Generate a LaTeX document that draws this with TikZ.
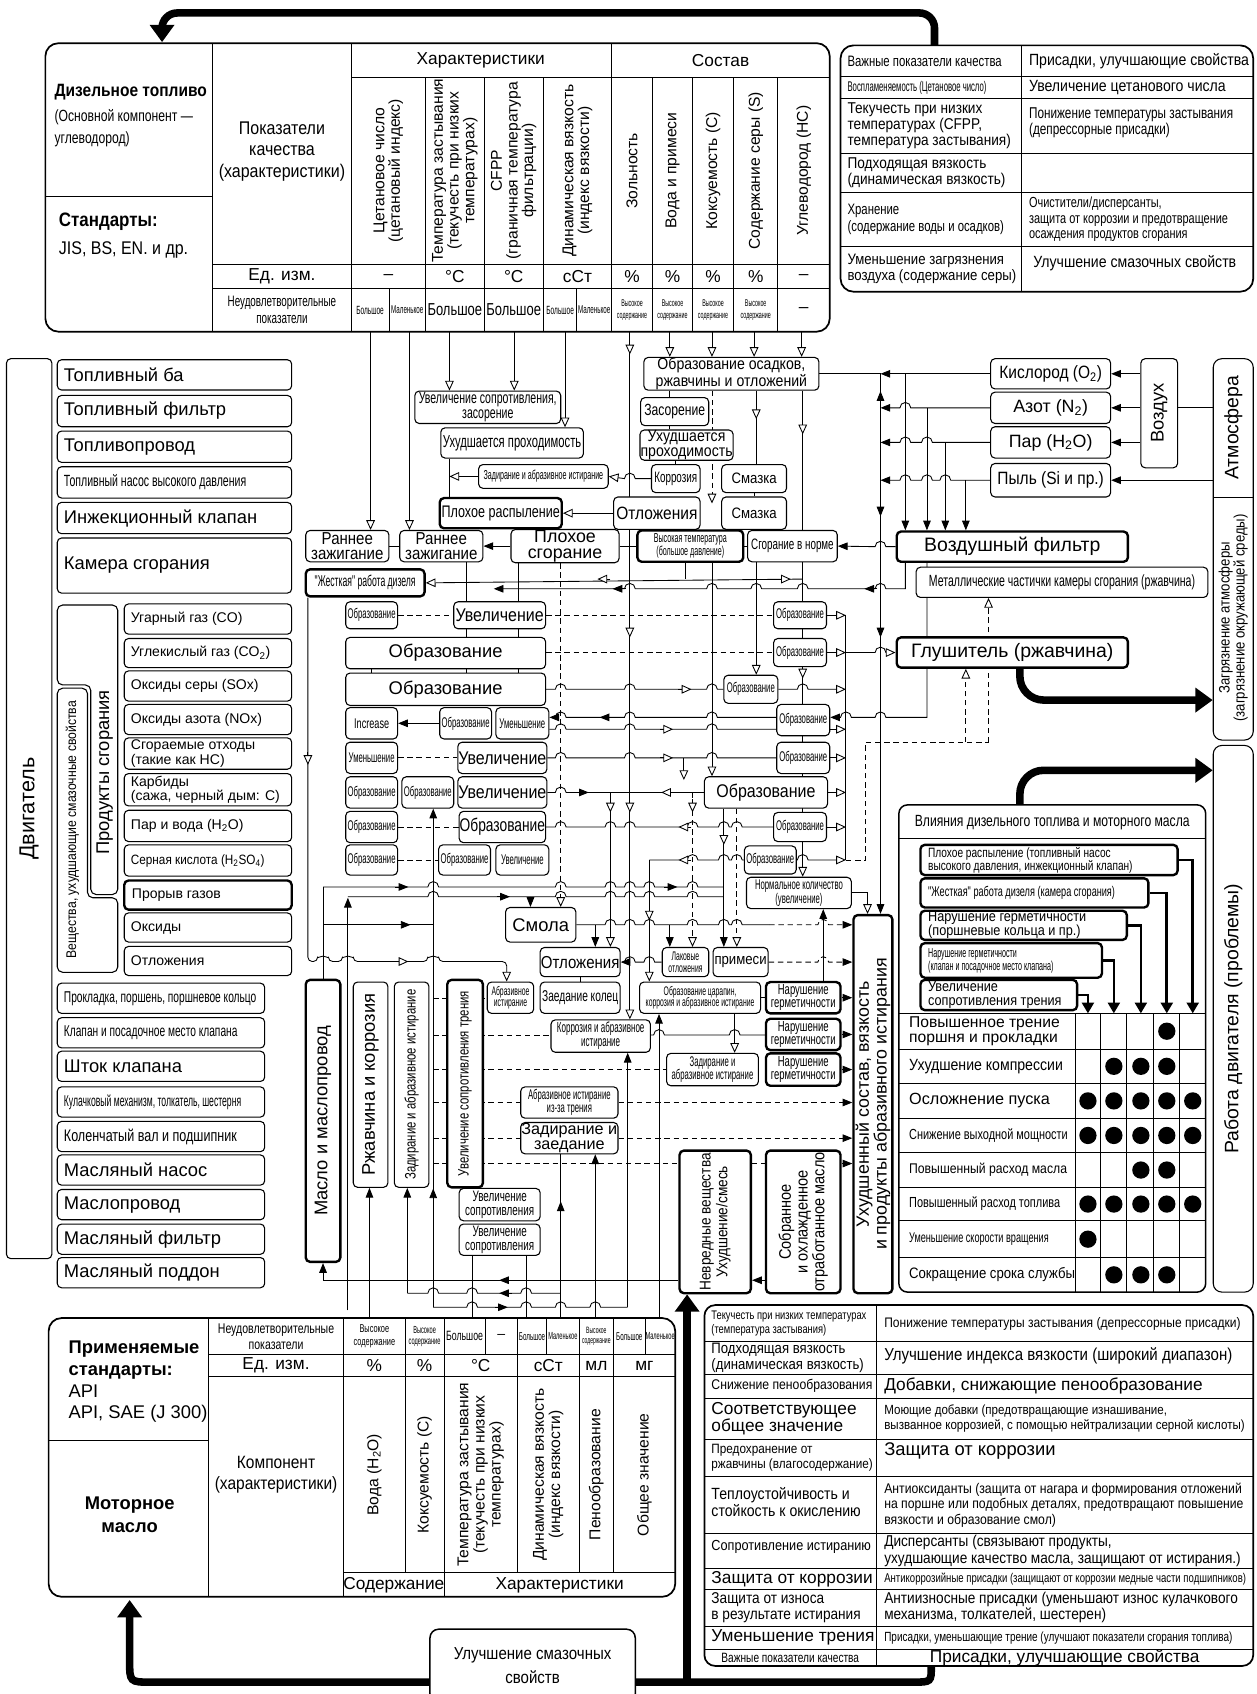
\documentclass[tikz,border=0pt]{standalone}
\usepackage{fontspec}
\setmainfont{Liberation Sans}
\newfontfamily\cA[FakeStretch=0.55]{Liberation Sans}
\newfontfamily\cB[FakeStretch=0.65]{Liberation Sans}
\newfontfamily\cC[FakeStretch=0.75]{Liberation Sans}
\newfontfamily\cD[FakeStretch=0.87]{Liberation Sans}
\usetikzlibrary{arrows.meta}
\pgfdeclarelayer{back}
\pgfdeclarelayer{bg}
\pgfsetlayers{back,bg,main}
\newcommand\fz[1]{\fontsize{#1}{#1}\selectfont}
\newcommand\fzz[2]{\fontsize{#1}{#2}\selectfont}
\newcommand\bx[7][]{\node[box,minimum width={(#5-#3)*1pt},minimum height={(#6-#4)*1pt},#1] (#2) at ({(#3+#5)/2},{(#4+#6)/2}) {#7};}
\newcommand\bxl[7][]{\node[box,minimum width={(#5-#3)*1pt},minimum height={(#6-#4)*1pt},#1] (#2) at ({(#3+#5)/2},{(#4+#6)/2}) {};\node[anchor=west,inner sep=0pt,align=left,#1,draw=none,fill=none] at ({#3+6},{(#4+#6)/2}) {#7};}
\newcommand\bxr[7][]{\node[box,minimum width={(#5-#3)*1pt},minimum height={(#6-#4)*1pt},#1] (#2) at ({(#3+#5)/2},{(#4+#6)/2}) {};\node[rotate=90,align=center,inner sep=0pt,#1,draw=none,fill=none] at (#2.center) {#7};}
\newcommand\hop[2]{-- ({#1-5},#2) arc[start angle=180,end angle=360,radius=5]}
\newcommand\hopl[2]{-- ({#1+5},#2) arc[start angle=0,end angle=-180,radius=5]}
\newcommand\OA[3]{\path (#1,#2) ++({#3+180}:12) coordinate (tmp); \draw[oa] (tmp) -- (#1,#2);}
\newcommand\FA[3]{\path (#1,#2) ++({#3+180}:12) coordinate (tmp); \draw[fa] (tmp) -- (#1,#2);}
\tikzset{
 box/.style={draw,rounded corners=4pt,line width=1pt,fill=white,inner sep=0.5pt,align=center},
 tk/.style={line width=2.2pt},
 ln/.style={line width=0.8pt},
 dsh/.style={line width=0.8pt,dash pattern=on 5pt off 3.5pt},
 oa/.style={ln,-{Triangle[length=9pt,width=8pt,fill=white]}},
 fa/.style={ln,-{Triangle[length=9pt,width=7pt]}},
 doa/.style={dsh,-{Triangle[length=9pt,width=8pt,fill=white]}},
 dfa/.style={dsh,-{Triangle[length=9pt,width=7pt]}},
 big/.style={line width=7pt,-{Triangle[length=16pt,width=22pt]}},
 tka/.style={line width=2.5pt,-{Triangle[length=10pt,width=11pt]}},
 tbl/.style={line width=1.6pt,rounded corners=12pt},
}
\begin{document}
\begin{tikzpicture}[x=1pt,y=-1pt]
\useasboundingbox (0,0) rectangle (1163,1568);
\begin{pgfonlayer}{back}\fill[white] (0,0) rectangle (1163,1568);\end{pgfonlayer}

% ================= top-left table (diesel fuel)
\draw[tbl] (42,40) rectangle (768,307);
\draw[ln] (197,40)--(197,307) (325,40)--(325,307) (42,182)--(197,182)
 (325,72)--(768,72) (197,245)--(768,245) (197,267)--(768,267) (566,40)--(566,307)
 (360,267)--(360,307) (534,267)--(534,307);
\foreach \x in {394,448,503,604,641,679,720} \draw[ln] (\x,72)--(\x,307);
\node[anchor=west,font=\cD\bfseries\fz{16.5}] at (47,85) {Дизельное топливо};
\node[anchor=north west,font=\cC\fzz{15}{20},align=left] at (47,98) {(Основной компонент —\\углеводород)};
\node[anchor=west,font=\cD\bfseries\fz{18}] at (51,205) {Стандарты:};
\node[anchor=west,font=\cD\fz{17}] at (51,231) {JIS, BS, EN. и др.};
\node[font=\cD\fzz{17}{20},align=center] at (261,140) {Показатели\\качества\\(характеристики)};
\node[font=\fz{16}] at (445,56) {Характеристики};
\node[font=\fz{16}] at (667,56) {Состав};
\foreach \x/\t in {359.5/{Цетановое число\\(цетановый индекс)},421/{Температура застывания\\(текучесть при низких\\температурах)},475.5/{CFPP\\(граничная температура\\фильтрации)},534.5/{Динамическая вязкость\\(индекс вязкости)},585/{Зольность},622.5/{Вода и примеси},660/{Коксуемость (C)},699.5/{Содержание серы (S)},744/{Углеводород (HC)}}
  \node[rotate=90,font=\fzz{14.5}{14.5},align=center] at (\x,158) {\t};
\node[font=\fz{16}] at (261,256) {Ед. изм.};
\foreach \x/\t in {359.5/–,421/°C,475.5/°C,534.5/сСт,585/\%,622.5/\%,660/\%,699.5/\%,744/–}
  \node[font=\fz{16}] at (\x,256) {\t};
\node[font=\cB\fzz{14}{16},align=center] at (261,287) {Неудовлетворительные\\показатели};
\node[font=\cA\fz{11}] at (342.5,287) {Большое};
\node[font=\cA\fz{10.5}] at (377,287) {Маленькое};
\node[font=\cC\fz{16}] at (421,287) {Большое};
\node[font=\cC\fz{16}] at (475.5,287) {Большое};
\node[font=\cA\fz{11}] at (518.5,287) {Большое};
\node[font=\cA\fz{10.5}] at (550,287) {Маленькое};
\foreach \x in {585,622.5,660,699.5} \node[font=\cA\fzz{9}{11},align=center] at (\x,287) {Высокое\\содержание};
\node[font=\fz{16}] at (744,287) {–};

% ================= top-right table
\draw[tbl] (778,42) rectangle (1160,270);
\draw[ln] (945,42)--(945,270);
\foreach \y in {71,91,142,178,228} \draw[ln] (778,\y)--(1160,\y);
\node[anchor=west,font=\cC\fz{14}] at (781,56.5) {Важные показатели качества};
\node[anchor=west,font=\cD\fz{15}] at (949,56.5) {Присадки, улучшающие свойства};
\node[anchor=west,font=\cA\fz{13}] at (781,81) {Воспламеняемость (Цетановое число)};
\node[anchor=west,font=\cD\fz{15}] at (949,81) {Увеличение цетанового числа};
\node[anchor=west,font=\cD\fzz{14.5}{15},align=left] at (781,116.5) {Текучесть при низких\\температурах (CFPP,\\температура застывания)};
\node[anchor=north west,font=\cC\fzz{14.5}{15},align=left] at (949,96) {Понижение температуры застывания\\(депрессорные присадки)};
\node[anchor=west,font=\cD\fzz{14.5}{15},align=left] at (781,160) {Подходящая вязкость\\(динамическая вязкость)};
\node[anchor=west,font=\cC\fzz{14}{15},align=left] at (781,203) {Хранение\\(содержание воды и осадков)};
\node[anchor=west,font=\cC\fzz{13.5}{14},align=left] at (949,203) {Очистители/дисперсанты,\\защита от коррозии и предотвращение\\осаждения продуктов сгорания};
\node[anchor=west,font=\cD\fzz{14}{15},align=left] at (781,249) {Уменьшение загрязнения\\воздуха (содержание серы)};
\node[anchor=west,font=\cD\fz{15}] at (953,244) {Улучшение смазочных свойств};

% ================= left column (engine)
\bxr[font=\fz{20}]{dvig}{6}{332}{48}{1165}{Двигатель}
\bxl[font=\fz{17}]{l1}{53}{333}{270}{361}{Топливный ба}
\bxl[font=\fz{17}]{l2}{53}{366}{270}{395}{Топливный фильтр}
\bxl[font=\fz{17}]{l3}{53}{399}{270}{428}{Топливопровод}
\bxl[font=\cB\fz{15}]{l4}{53}{432}{270}{461}{Топливный насос высокого давления}
\bxl[font=\fz{17}]{l5}{53}{465}{270}{494}{Инжекционный клапан}
\bxl[font=\fz{17}]{l6}{53}{498}{270}{549}{Камера сгорания}
\draw[line width=1pt,rounded corners=5pt] (53,560) -- (109,560) -- (109,828) -- (84,828) -- (84,634) -- (53,634) -- cycle;
\draw[line width=1pt,rounded corners=5pt] (53,637) -- (81,637) -- (81,831) -- (109,831) -- (109,900) -- (53,900) -- cycle;
\node[rotate=90,font=\fz{17}] (prod) at (97,715) {Продукты сгорания};
\node[rotate=90,font=\cD\fz{13}] (vesch) at (67,768) {Вещества, ухудшающие смазочные свойства};
\bxl[font=\fz{13}]{p1}{115}{559}{270}{587}{Угарный газ (CO)}
\bxl[font=\fz{13}]{p2}{115}{591}{270}{618}{Углекислый газ (CO\textsubscript{2})}
\bxl[font=\fz{13}]{p3}{115}{621}{270}{649}{Оксиды серы (SOx)}
\bxl[font=\fz{13}]{p4}{115}{652}{270}{680}{Оксиды азота (NOx)}
\bxl[font=\fzz{13}{12}]{p5}{115}{683}{270}{712}{Сгораемые отходы\\(такие как HC)}
\bxl[font=\fzz{13}{12}]{p6}{115}{716}{270}{746}{Карбиды\\(сажа, черный дым: C)}
\bxl[font=\fz{13}]{p7}{115}{750}{270}{779}{Пар и вода (H\textsubscript{2}O)}
\bxl[font=\cD\fz{12.5}]{p8}{115}{782}{270}{811}{Серная кислота (H\textsubscript{2}SO\textsubscript{4})}
\bxl[tk,font=\fz{13}]{p9}{115}{815}{270}{842}{Прорыв газов}
\bxl[font=\fz{13}]{p10}{115}{845}{270}{872}{Оксиды}
\bxl[font=\fz{13}]{p11}{115}{876}{270}{903}{Отложения}
\bxl[font=\cB\fz{14.5}]{e1}{53}{910}{245}{938}{Прокладка, поршень, поршневое кольцо}
\bxl[font=\cB\fz{14.5}]{e2}{53}{942}{245}{970}{Клапан и посадочное место клапана}
\bxl[font=\fz{17}]{e3}{53}{973}{245}{1001}{Шток клапана}
\bxl[font=\cA\fz{14.5}]{e4}{53}{1006}{245}{1034}{Кулачковый механизм, толкатель, шестерня}
\bxl[font=\cC\fz{15.5}]{e5}{53}{1038}{245}{1066}{Коленчатый вал и подшипник}
\bxl[font=\fz{17}]{e6}{53}{1069}{245}{1097}{Масляный насос}
\bxl[font=\fz{17}]{e7}{53}{1101}{245}{1129}{Маслопровод}
\bxl[font=\fz{17}]{e8}{53}{1133}{245}{1161}{Масляный фильтр}
\bxl[font=\fz{17}]{e9}{53}{1164}{245}{1192}{Масляный поддон}

% ================= center upper
\bx[font=\cD\fzz{15}{14}]{oos}{596}{331}{758}{361}{Образование осадков,\\ржавчины и отложений}
\bx[font=\cB\fzz{15}{14}]{uvs}{384}{362}{519}{392}{Увеличение сопротивления,\\засорение}
\bx[font=\cB\fz{16}]{uhp1}{408}{396}{540}{424}{Ухудшается проходимость}
\bx[font=\cA\fz{12}]{zai1}{443}{430}{563}{452}{Задирание и абразивное истирание}
\bx[tk,font=\cC\fz{15.5}]{plr}{407}{461}{520}{489}{Плохое распыление}
\bx[font=\cC\fz{15}]{zas}{593}{368}{656}{394}{Засорение}
\bx[font=\cD\fzz{15}{13}]{uhp2}{593}{398}{678}{426}{Ухудшается\\проходимость}
\bx[font=\cB\fz{14}]{kor}{603}{430}{648}{456}{Коррозия}
\bx[font=\cD\fz{14}]{sm1}{668}{430}{728}{456}{Смазка}
\bx[font=\cD\fz{16.5}]{otl1}{568}{460}{648}{490}{Отложения}
\bx[font=\cD\fz{14}]{sm2}{668}{460}{728}{490}{Смазка}
\bx[font=\cD\fzz{16}{14}]{rz1}{283}{491}{360}{520}{Раннее\\зажигание}
\bx[font=\cD\fzz{16}{14}]{rz2}{370}{491}{447}{520}{Раннее\\зажигание}
\bx[font=\fzz{16.5}{15}]{pls}{473}{491}{573}{520}{Плохое\\сгорание}
\bx[tk,font=\cA\fzz{12}{12}]{vt}{590}{491}{688}{520}{Высокая температура\\(большое давление)}
\bx[font=\cB\fz{14}]{svn}{692}{491}{775}{520}{Сгорание в норме}
\bx[tk,font=\cA\fz{14.5}]{zhr}{283}{527}{393}{552}{"Жесткая" работа дизеля}

% ================= center stack
\bx[font=\cA\fz{13}]{ob1}{320}{557}{368}{582}{Образование}
\bx[font=\cD\fz{17}]{uv1}{420}{557}{505}{582}{Увеличение}
\bx[font=\cA\fz{13}]{obr1}{716}{557}{765}{582}{Образование}
\bx[font=\fz{17}]{obw1}{320}{590}{505}{619}{Образование}
\bx[font=\cA\fz{13}]{obr2}{716}{591}{765}{617}{Образование}
\bx[font=\fz{17}]{obw2}{320}{623}{505}{653}{Образование}
\bx[font=\cA\fz{13}]{obm3}{670}{625}{720}{651}{Образование}
\bx[font=\cB\fz{13}]{inc}{320}{655}{368}{684}{Increase}
\bx[font=\cA\fz{13}]{ob4a}{407}{655}{455}{684}{Образование}
\bx[font=\cA\fz{13}]{um4}{459}{655}{508}{684}{Уменьшение}
\bx[font=\cA\fz{13}]{obr4}{719}{652}{768}{681}{Образование}
\bx[font=\cA\fz{13}]{um5}{320}{687}{368}{716}{Уменьшение}
\bx[font=\cD\fz{17}]{uv5}{425}{687}{505}{716}{Увеличение}
\bx[font=\cA\fz{13}]{obr5}{719}{687}{768}{716}{Образование}
\bx[font=\cA\fz{13}]{ob6a}{320}{719}{368}{748}{Образование}
\bx[font=\cA\fz{13}]{ob6b}{372}{719}{420}{748}{Образование}
\bx[font=\cD\fz{17}]{uv6}{425}{719}{505}{748}{Увеличение}
\bx[font=\cD\fz{17}]{obB}{652}{719}{766}{748}{Образование}
\bx[font=\cA\fz{13}]{ob7a}{320}{751}{368}{780}{Образование}
\bx[font=\cC\fz{17}]{ob7b}{425}{751}{505}{780}{Образование}
\bx[font=\cA\fz{13}]{obr7}{716}{752}{765}{779}{Образование}
\bx[font=\cA\fz{13}]{ob8a}{320}{782}{368}{810}{Образование}
\bx[font=\cA\fz{13}]{ob8b}{406}{782}{454}{810}{Образование}
\bx[font=\cA\fz{13}]{uv8}{459}{782}{508}{810}{Увеличение}
\bx[font=\cA\fz{13}]{obr8}{689}{783}{737}{809}{Образование}
\bx[font=\cA\fzz{13}{12}]{nk}{691}{812}{788}{841}{Нормальное количество\\(увеличение)}

% ================= center lower
\bx[font=\fz{17}]{smola}{468}{840}{533}{872}{Смола}
\bx[font=\cD\fz{16}]{otl2}{500}{877}{574}{904}{Отложения}
\bx[font=\cA\fzz{11.5}{11}]{lak}{613}{877}{656}{904}{Лаковые\\отложения}
\bx[font=\cD\fz{14}]{prm}{660}{877}{711}{904}{примеси}
\bx[font=\cB\fz{14.5}]{zk}{500}{909}{574}{938}{Заедание колец}
\bx[font=\cA\fzz{11.5}{11}]{abr}{451}{909}{494}{938}{Абразивное\\истирание}
\bx[font=\cA\fzz{11.5}{11}]{ocr}{592}{909}{704}{938}{Образование царапин,\\коррозия и абразивное истирание}
\bx[tk,font=\cB\fzz{13.5}{12.5}]{n1}{709}{909}{778}{938}{Нарушение\\герметичности}
\bx[font=\cA\fzz{13.5}{13}]{kab}{510}{944}{602}{974}{Коррозия и абразивное\\истирание}
\bx[tk,font=\cB\fzz{13.5}{12.5}]{n2}{709}{943}{778}{972}{Нарушение\\герметичности}
\bx[font=\cA\fzz{13}{12.5}]{zar2}{617}{975}{702}{1005}{Задирание и\\абразивное истирание}
\bx[tk,font=\cB\fzz{13.5}{12.5}]{n3}{709}{975}{778}{1005}{Нарушение\\герметичности}
\bx[font=\cA\fzz{13}{12.5}]{aiz}{482}{1006}{572}{1035}{Абразивное истирание\\из-за трения}
\bx[font=\fzz{15}{13.5}]{zz}{482}{1039}{572}{1068}{Задирание и\\заедание}
\bx[font=\cB\fzz{14}{13}]{us1}{425}{1100}{500}{1130}{Увеличение\\сопротивления}
\bx[font=\cB\fzz{14}{13}]{us2}{425}{1133}{500}{1162}{Увеличение\\сопротивления}
\bxr[tk,font=\fz{17}]{mm}{283}{907}{315}{1168}{Масло и маслопровод}
\bxr[font=\fz{17}]{rzk}{327}{909}{359}{1099}{Ржавчина и коррозия}
\bxr[font=\cC\fz{14}]{zad}{365}{909}{397}{1099}{Задирание и абразивное истирание}
\bxr[tk,font=\cC\fz{14}]{utr}{414}{907}{447}{1099}{Увеличение сопротивления трения}
\bxr[tk,font=\cD\fzz{14.5}{15.5}]{nv}{629}{1065}{695}{1197}{Невредные вещества\\Ухудшение/смесь}
\bxr[tk,font=\cD\fzz{15.5}{15.5}]{sob}{709}{1065}{778}{1197}{Собранное\\и охлажденное\\отработанное масло}
\bxr[tk,font=\fzz{16.5}{16.5}]{uhs}{790}{847}{826}{1197}{Ухудшенный состав, вязкость\\и продукты абразивного истирания}

% ================= right
\bx[font=\cD\fz{16.5}]{kis}{917}{332}{1028}{360}{Кислород (O\textsubscript{2})}
\bx[font=\fz{16.5}]{azot}{917}{363}{1028}{392}{Азот (N\textsubscript{2})}
\bx[font=\fz{16.5}]{par}{917}{395}{1028}{424}{Пар (H\textsubscript{2}O)}
\bx[font=\cD\fz{16.5}]{pyl}{917}{429}{1028}{460}{Пыль (Si и пр.)}
\bxr[font=\fz{17}]{vozd}{1056}{332}{1090}{433}{Воздух}
\node[box,rounded corners=8pt,minimum width=37pt,minimum height=353pt] (atmb) at (1141.5,508.5) {};
\draw[ln] (1123,460)--(1160,460);
\node[rotate=90,font=\fz{18}] (atm) at (1141.5,396) {Атмосфера};
\node[rotate=90,font=\cD\fzz{14}{14},align=center] (zag) at (1141.5,572) {Загрязнение атмосферы\\(загрязнение окружающей среды)};
\node[box,rounded corners=8pt,minimum width=37pt,minimum height=506pt] (rab) at (1141.5,943) {};
\node[rotate=90,font=\fz{18}] at (rab.center) {Работа двигателя (проблемы)};
\bx[tk,font=\fz{18}]{af}{830}{492}{1044}{520}{Воздушный фильтр}
\bx[font=\cB\fz{15}]{met}{848}{525}{1118}{553}{Металлические частички камеры сгорания (ржавчина)}
\bx[tk,font=\fz{18}]{glush}{830}{590}{1044}{618}{Глушитель (ржавчина)}

% ================= effects panel
\node[box,line width=1.4pt,rounded corners=8pt,minimum width=284pt,minimum height=451pt] (vl) at (974,970.5) {};
\draw[ln] (832,776)--(1116,776);
\node[font=\cC\fz{15}] at (974,761) {Влияния дизельного топлива и моторного масла};
\bxl[tk,font=\cC\fzz{12.5}{12}]{b1}{852}{782}{1090}{810}{Плохое распыление (топливный насос\\высокого давления, инжекционный клапан)}
\bxl[tk,font=\cB\fz{13}]{b2}{852}{813}{1063}{840}{"Жесткая" работа дизеля (камера сгорания)}
\bxl[tk,font=\cD\fzz{13.5}{13}]{b3}{852}{843}{1043}{870}{Нарушение герметичности\\(поршневые кольца и пр.)}
\bxl[tk,font=\cA\fzz{12}{12}]{b4}{852}{873}{1020}{905}{Нарушение герметичности\\(клапан и посадочное место клапана)}
\bxl[tk,font=\cD\fzz{13.5}{13}]{b5}{852}{907}{997}{935}{Увеличение\\сопротивления трения}
\draw[tka] (b5.east) -- (1007,921) -- (1007,938);
\draw[tka] (b4.east) -- (1031,889) -- (1031,938);
\draw[tka] (b3.east) -- (1056,856.5) -- (1056,938);
\draw[tka] (b2.east) -- (1080,826.5) -- (1080,938);
\draw[tka] (b1.east) -- (1104,796) -- (1104,938);
\foreach \y in {938,971,1003,1035,1067,1099,1130,1164} \draw[ln] (832,\y)--(1116,\y);
\foreach \x in {995,1019,1043,1068,1092} \draw[ln] (\x,938)--(\x,1196);
\node[anchor=west,font=\fzz{14.5}{14.5},align=left] at (838,954.5) {Повышенное трение\\поршня и прокладки};
\node[anchor=west,font=\cD\fz{15}] at (838,987) {Ухудшение компрессии};
\node[anchor=west,font=\fz{15}] at (838,1019) {Осложнение пуска};
\node[anchor=west,font=\cC\fz{13.5}] at (838,1051) {Снижение выходной мощности};
\node[anchor=west,font=\cD\fz{13}] at (838,1083) {Повышенный расход масла};
\node[anchor=west,font=\cC\fz{13.5}] at (838,1114.5) {Повышенный расход топлива};
\node[anchor=west,font=\cB\fz{13}] at (838,1147) {Уменьшение скорости вращения};
\node[anchor=west,font=\cD\fz{14}] at (838,1180) {Сокращение срока службы};
\foreach \x/\y in {1080/954.5, 1031/987,1056/987,1080/987, 1007/1019,1031/1019,1056/1019,1080/1019,1104/1019,
 1007/1051,1031/1051,1056/1051,1080/1051,1104/1051, 1056/1083,1080/1083,
 1007/1114.5,1031/1114.5,1056/1114.5,1080/1114.5,1104/1114.5, 1007/1147, 1031/1180,1056/1180,1080/1180}
 \fill (\x,\y) circle[radius=8];

% ================= bottom-left table (motor oil)
\draw[tbl] (45,1220) rectangle (625,1478);
\draw[ln] (193,1220)--(193,1478) (318,1220)--(318,1478) (45,1333)--(193,1333)
 (193,1254)--(625,1254) (193,1274)--(625,1274) (318,1455)--(625,1455)
 (375,1220)--(375,1455) (411,1220)--(411,1478) (479,1220)--(479,1455) (536,1220)--(536,1455) (568,1220)--(568,1455)
 (449,1220)--(449,1254) (506,1220)--(506,1254) (597,1220)--(597,1254);
\node[anchor=north west,font=\fzz{17}{20},align=left] at (60,1238) {{\bfseries Применяемые}\\{\bfseries стандарты:}\\API\\API, SAE (J 300)};
\node[font=\bfseries\fzz{17}{22},align=center] at (120,1402) {Моторное\\масло};
\node[font=\cC\fzz{13}{15},align=center] at (255.5,1237) {Неудовлетворительные\\показатели};
\node[font=\fz{16}] at (255.5,1264) {Ед. изм.};
\node[font=\cD\fzz{16.5}{19},align=center] at (255.5,1365) {Компонент\\(характеристики)};
\foreach \x/\t in {346.5/\%,393/\%,445/°C,507.5/сСт,552/мл,596.5/мг/г} \node[font=\fz{16}] at (\x,1264) {\t};
\foreach \x/\t in {346.5/{Вода (H\textsubscript{2}O)},393/{Коксуемость (C)},445/{Температура застывания\\(текучесть при низких\\температурах)},507.5/{Динамическая вязкость\\(индекс вязкости)},552/{Пенообразование},596.5/{Общее значение}}
 \node[rotate=90,font=\fzz{14.5}{15},align=center] at (\x,1365) {\t};
\node[font=\fz{16}] at (364.5,1467) {Содержание};
\node[font=\fz{16}] at (518,1467) {Характеристики};
\node[font=\cB\fzz{10.5}{11.5},align=center] at (346.5,1237) {Высокое\\содержание};
\node[font=\cA\fzz{9.5}{10.5},align=center] at (393,1237) {Высокое\\содержание};
\node[font=\cB\fz{12.5}] at (430,1237) {Большое};
\node[font=\fz{13}] at (464,1237) {–};
\node[font=\cA\fz{10.5}] at (492.5,1237) {Большое};
\node[font=\cA\fz{9.5}] at (521,1237) {Маленькое};
\node[font=\cA\fzz{8.5}{9.5},align=center] at (552,1237) {Высокое\\содержание};
\node[font=\cA\fz{10.5}] at (582.5,1237) {Большое};
\node[font=\cA\fz{9.5}] at (611,1237) {Маленькое};
\bx[line width=1.4pt,rounded corners=8pt,font=\cD\fzz{16}{22}]{ul}{398}{1508}{588}{1576}{Улучшение смазочных\\свойств}

% ================= bottom-right table (oil additives)
\draw[line width=1.6pt,rounded corners=10pt] (652,1208) rectangle (1160,1542);
\draw[ln] (811,1208)--(811,1542);
\foreach \y in {1242,1272,1294,1332,1367,1419,1452,1471,1505,1527} \draw[ln] (652,\y)--(1160,\y);
\node[anchor=west,font=\cC\fzz{11.5}{12.5},align=left] at (655,1225) {Текучесть при низких температурах\\(температура застывания)};
\node[anchor=west,font=\cD\fz{12.8}] at (815,1225) {Понижение температуры застывания (депрессорные присадки)};
\node[anchor=west,font=\cD\fzz{14}{14.5},align=left] at (655,1257) {Подходящая вязкость\\(динамическая вязкость)};
\node[anchor=west,font=\cD\fz{16}] at (815,1255) {Улучшение индекса вязкости (широкий диапазон)};
\node[anchor=west,font=\cD\fz{13}] at (655,1283) {Снижение пенообразования};
\node[anchor=west,font=\fz{16}] at (815,1283) {Добавки, снижающие пенообразование};
\node[anchor=west,font=\fzz{16}{16},align=left] at (655,1313) {Соответствующее\\общее значение};
\node[anchor=west,font=\cD\fzz{12.3}{13.5},align=left] at (815,1313) {Моющие добавки (предотвращающие изнашивание,\\вызванное коррозией, с помощью нейтрализации серной кислоты)};
\node[anchor=west,font=\cD\fzz{12.5}{13.5},align=left] at (655,1349.5) {Предохранение от\\ржавчины (влагосодержание)};
\node[anchor=west,font=\fz{17}] at (815,1343) {Защита от коррозии};
\node[anchor=west,font=\cD\fzz{15}{16},align=left] at (655,1390) {Теплоустойчивость и\\стойкость к окислению};
\node[anchor=west,font=\cD\fzz{13}{14.5},align=left] at (815,1393) {Антиоксиданты (защита от нагара и формирования отложений\\на поршне или подобных деталях, предотвращают повышение\\вязкости и образование смол)};
\node[anchor=west,font=\cD\fz{13.5}] at (655,1432) {Сопротивление истиранию};
\node[anchor=west,font=\cD\fzz{14.5}{15},align=left] at (815,1435.5) {Дисперсанты (связывают продукты,\\ухудшающие качество масла, защищают от истирания.)};
\node[anchor=west,font=\fz{16}] at (655,1461.5) {Защита от коррозии};
\node[anchor=west,font=\cC\fz{11.8}] at (815,1461.5) {Антикоррозийные присадки (защищают от коррозии медные части подшипников)};
\node[anchor=west,font=\cD\fzz{14.5}{15},align=left] at (655,1488) {Защита от износа\\в результате истирания};
\node[anchor=west,font=\cD\fzz{14.5}{15},align=left] at (815,1488) {Антиизносные присадки (уменьшают износ кулачкового\\механизма, толкателей, шестерен)};
\node[anchor=west,font=\fz{16}] at (655,1516) {Уменьшение трения};
\node[anchor=west,font=\cC\fz{12.3}] at (815,1516) {Присадки, уменьшающие трение (улучшают показатели сгорания топлива)};
\node[font=\cC\fz{12.5}] at (731.5,1534.5) {Важные показатели качества};
\node[font=\fz{16}] at (985.5,1534.5) {Присадки, улучшающие свойства};

% ================= connectors (behind boxes)
\begin{pgfonlayer}{bg}
% thick flow arrows
\draw[big,rounded corners=14pt] (865,42) -- (865,12) -- (150,12) -- (150,39);
\draw[big,rounded corners=22pt] (glush.south -| 944,0) -- (944,648) -- (atmb.west |- 0,648);
\draw[big,rounded corners=22pt] (vl.north -| 944,0) -- (944,713) -- (rab.west |- 0,713);
\draw[big] (862,1542) .. controls (862,1557) .. (845,1557) -- (140,1557) .. controls (120,1557) .. (120,1537) -- (120,1481);
\draw[big] (636,1557) -- (nv.south -| 636,0);
% from top table
\draw[oa] (343,307) -- (rz1.north -| 343,0);
\draw[oa] (379,307) -- (rz2.north -| 379,0);
\draw[oa] (416,307) -- (uvs.north -| 416,0);
\draw[oa] (476,307) -- (uvs.north -| 476,0);
\draw[oa] (523,307) -- (uhp1.north -| 523,0);
\draw[oa] (583,307) -- (kab.north -| 583,0);
\OA{583}{328}{90} \OA{583}{590}{90} \OA{583}{752}{90}
\draw[oa] (620,307) -- (oos.north -| 620,0);
\draw[oa] (659,307) -- (oos.north -| 659,0);
\draw[oa] (698,307) -- (oos.north -| 698,0);
\draw[oa] (742,307) -- (oos.north -| 742,0);
% below oos
\draw[ln] (oos.south -| 620,0) -- (zas.north -| 620,0);
\draw[ln] (zas.south -| 620,0) -- (uhp2.north -| 620,0);
\draw[ln] (uhp2.south -| 625,0) -- (kor.north -| 625,0);
\draw[doa] (oos.south -| 659,0) -- (659,466);
\draw[ln] (oos.south -| 700,0) -- (sm1.north -| 700,0); \OA{700}{388}{90}
\draw[ln] (sm1.south -| 698,0) -- (sm2.north -| 698,0);
\draw[ln] (sm2.south -| 698,0) -- (svn.north -| 698,0);
\draw[ln] (oos.south -| 743,0) -- (svn.north -| 743,0); \OA{743}{402}{90}
\draw[oa] (kor.west) \hopl{583}{443} -- (zai1.east);
\draw[oa] (zai1.west) -- (416,441);
\draw[ln] (uhp1.south -| 416,0) -- (plr.north -| 416,0);
\draw[oa] (otl1.west) -- (plr.east);
% combustion row
\draw[ln] (rz1.east) -- (rz2.west);
\draw[fa] (pls.west) -- (rz2.east);
\draw[ln] (pls.east) -- (vt.west);
\draw[ln] (vt.east) -- (svn.west);
\draw[fa] (af.west) \hopl{815}{506} -- (svn.east);
\draw[ln] (vt.south -| 634,0) -- (634,536);
\draw[oa] (743,536) -- (zhr.east); \OA{553}{536}{180} \OA{732}{536}{0}
\draw[oa] (svn.south -| 743,0) -- (nk.north -| 743,0); \OA{743}{628}{90}
\draw[oa] (svn.south -| 700,0) -- (obm3.north -| 700,0);
\draw[oa] (vt.south -| 659,0) -- (obB.north -| 659,0);
\draw[fa] (af.south -| 838,0) -- (838,545) \hopl{815}{545} \hopl{743}{545} \hopl{700}{545} \hopl{659}{545} \hopl{583}{545} -- (457,545);
\FA{800}{545}{180} \FA{567}{545}{180}
\draw[ln] (rz2.south -| 432,0) -- (uv1.north -| 432,0);
\draw[ln] (pls.south -| 480,0) -- (uv1.north -| 480,0);
\draw[ln] (uv1.south -| 432,0) -- (obw1.north -| 432,0);
\draw[ln] (uv1.south -| 480,0) -- (obw1.north -| 480,0);
\draw[ln] (obw1.south -| 432,0) -- (obw2.north -| 432,0);
\draw[ln] (obw1.south -| 480,0) -- (obw2.north -| 480,0);
\draw[ln] (obw1.south -| 344,0) -- (obw2.north -| 344,0);
\draw[doa] (pls.south -| 519,0) -- (smola.north -| 519,0);
% collector on the right
\draw[ln] (783,569) -- (783,796);
\draw[dsh] (783,796) -- (801,796) -- (801,687) -- (915,687);
\draw[doa] (915,687) -- (met.south -| 915,0);
\draw[doa] (894,687) -- (glush.south -| 894,0);
\draw[oa] (obr1.east) -- (783,569.5);
\draw[oa] (obr2.east) -- (783,604);
\draw[oa] (783,604) \hop{815}{604} -- (glush.west);
\draw[oa] (obm3.east) \hop{743}{638} -- (783,638);
\draw[fa] (af.south -| 858,0) -- (858,664) \hopl{815}{664} \hopl{783}{664} -- (obr4.east |- 0,664);
\draw[oa] (obr4.east |- 0,675) -- (783,675);
\draw[oa] (obr5.east) -- (783,701.5);
\draw[oa] (obB.east) -- (783,733.5);
\draw[oa] (obr7.east) -- (783,765.5);
\draw[oa] (obr8.east) \hop{743}{796} -- (783,796);
% rows of the stack
\draw[dsh] (ob1.east) -- (uv1.west);
\draw[dsh] (uv1.east) -- (obr1.west);
\draw[dsh] (obw1.east |- 0,604) -- (obr2.west);
\draw[ln] (obw2.east) \hop{519}{638} \hop{583}{638} \hop{659}{638} -- (obm3.west); \OA{640}{638}{0}
\draw[fa] (obr4.west |- 0,664) \hopl{659}{664} \hopl{583}{664} \hopl{519}{664} -- (um4.east |- 0,664); \FA{555}{664}{180}
\draw[fa] (ob4a.west) -- (inc.east);
\draw[ln] (um4.east |- 0,675) \hop{519}{675} \hop{583}{675} \hop{659}{675} -- (obr4.west |- 0,675); \OA{623}{675}{0}
\draw[dsh] (um5.east) -- (uv5.west);
\draw[ln] (uv5.east) \hop{519}{701.5} \hop{583}{701.5} \hop{659}{701.5} -- (obr5.west); \OA{623}{701.5}{0}
\draw[oa] (633,701.5) -- (633,722);
\draw[ln] (uv6.east) \hop{519}{733.5} -- (obB.west); \FA{545}{733.5}{0} \OA{612}{733.5}{180}
\draw[oa] (565,733.5) -- (otl2.north -| 565,0); \OA{565}{752}{90}
\draw[doa] (641,733.5) -- (lak.north -| 641,0); \OA{641}{752}{90}
\draw[dsh] (ob7a.east) -- (ob7b.west);
\draw[ln] (ob7b.east) \hop{519}{765.5} \hop{565}{765.5} \hop{583}{765.5} \hop{641}{765.5} \hop{670}{765.5} \hop{682}{765.5} -- (obr7.west); \OA{628}{765.5}{180}
\draw[dsh] (ob8a.east) -- (ob8b.west);
\draw[ln] (601,796) \hop{641}{796} \hop{670}{796} \hop{682}{796} -- (obr8.west); \OA{628}{796}{180}
\draw[oa] (601,796) -- (ocr.north -| 601,0); \OA{601}{852}{90}
% normal amount / degraded oil
\draw[oa] (nk.east) -- (803,826.5) -- (uhs.north -| 803,0);
\draw[fa] (n1.north -| 762,0) -- (nk.south -| 762,0);
\draw[fa] (815,346) -- (uhs.north -| 815,0); \FA{815}{362}{270} \FA{815}{478}{90} \FA{815}{590}{90}
% air
\draw[ln] (oos.east) -- (815,346);
\draw[fa] (kis.west) -- (815,346);
\draw[fa] (azot.west) \hopl{838}{377.5} -- (815,377.5);
\draw[fa] (par.west) \hopl{858}{409.5} \hopl{838}{409.5} -- (815,409.5);
\draw[fa] (pyl.west) \hopl{875}{444.5} \hopl{858}{444.5} \hopl{838}{444.5} -- (815,444.5);
\draw[fa] (838,346) -- (af.north -| 838,0);
\draw[fa] (858,377.5) -- (af.north -| 858,0);
\draw[fa] (875,409.5) -- (af.north -| 875,0);
\draw[fa] (894,444.5) -- (af.north -| 894,0);
\draw[fa] (vozd.west |- 0,346) -- (kis.east);
\draw[fa] (vozd.west |- 0,377.5) -- (azot.east);
\draw[fa] (vozd.west |- 0,409.5) -- (par.east);
\draw[ln] (atmb.west |- 0,377.5) -- (vozd.east |- 0,377.5);
\draw[fa] (atmb.west |- 0,444.5) -- (pyl.east);
% middle horizontal buses
\draw[ln] (299,821) \hop{401}{821} \hop{519}{821} \hop{565}{821} \hop{583}{821} \hop{601}{821} \hop{641}{821} -- (670,821);
\FA{378}{821}{0} \FA{627}{821}{0}
\draw[fa] (obB.south -| 670,0) -- (prm.north -| 670,0); \OA{670}{782}{90}
\draw[doa] (obB.south -| 682,0) -- (prm.north -| 682,0);
\draw[ln] (322,830) \hop{401}{830} \hop{519}{830} \hop{565}{830} \hop{583}{830} \hop{601}{830} \hop{641}{830} -- (670,830); \FA{472}{830}{0}
\draw[fa] (491,830) -- (smola.north -| 491,0);
\draw[fa] (322,1213) -- (322,831);
\draw[ln] (299,856) -- (401,856); \FA{380}{856}{0}
\draw[fa] (401,1210) -- (ob6b.south -| 401,0); \FA{401}{1100}{270}
\draw[ln] (smola.east) \hop{565}{856} \hop{583}{856} \hop{601}{856} \hop{641}{856} \hop{670}{856} \hop{682}{856} -- (712,856);
\draw[dfa] (712,856) \hop{762}{856} -- (uhs.west |- 0,856);
\draw[fa] (551,856) -- (otl2.north -| 551,0);
\draw[fa] (620,856) -- (lak.north -| 620,0);
\draw[ln] (otl2.south -| 537,0) -- (zk.north -| 537,0);
\draw[fa] (lak.west) \hopl{601}{890.5} \hopl{583}{890.5} -- (otl2.east);
\draw[dfa] (prm.east) \hop{762}{890.5} -- (uhs.west |- 0,890.5);
\draw[oa,rounded corners=4pt] (zhr.south -| 285,0) -- (285,890) \hop{299}{890} \hop{322}{890} \hop{401}{890} -- (469,890) -- (abr.north -| 469,0);
\OA{285}{708}{90} \OA{378}{890}{0}
\draw[ln] (299,821) -- (mm.north -| 299,0);
% lower center
\draw[ln] (ocr.east) -- (n1.west);
\draw[fa] (n1.east) -- (uhs.west |- 0,923.5);
\draw[fa] (n2.east) -- (uhs.west |- 0,957.5);
\draw[fa] (n3.east) -- (uhs.west |- 0,990);
\draw[oa] (ocr.south -| 680,0) -- (zar2.north -| 680,0);
\draw[ln] (kab.east |- 0,958) \hop{610}{958} \hop{680}{958} -- (n2.west |- 0,958);
\draw[fa] (610,1220) -- (ocr.south -| 610,0);
\draw[fa] (581,1210) -- (kab.south -| 581,0);
\draw[fa] (551,1220) -- (zz.south -| 551,0);
\draw[ln] (519,1220) -- (zz.south -| 519,0); \FA{519}{1112}{270}
\draw[fa] (342,1220) -- (rzk.south -| 342,0);
\draw[fa] (377,1197) -- (zad.south -| 377,0);
\draw[ln] (us2.south -| 437,0) -- (437,1220);
\draw[ln] (us2.south -| 487,0) -- (487,1220);
\draw[ln] (377,1197) \hop{401}{1197} \hop{437}{1197} \hop{487}{1197} -- (519,1197); \FA{462}{1197}{180}
\draw[ln] (401,1210) \hop{437}{1210} \hop{487}{1210} \hop{519}{1210} \hop{551}{1210} -- (581,1210); \FA{470}{1210}{0}
\draw[dsh] (401,924) -- (abr.west |- 0,924);
\draw[dsh] (401,958) -- (kab.west |- 0,958);
\draw[dsh] (401,990) -- (zar2.west |- 0,990);
\draw[dsh] (401,1020.5) -- (aiz.west);
\draw[dfa] (aiz.east) -- (uhs.west |- 0,1020.5);
\draw[dsh] (401,1053.5) -- (zz.west);
\draw[dfa] (zz.east) -- (uhs.west |- 0,1053.5);
\draw[dsh] (401,1077) -- (nv.west |- 0,1077);
\draw[dsh] (nv.east |- 0,1077) -- (sob.west |- 0,1077);
\draw[dfa] (sob.east |- 0,1077) -- (uhs.west |- 0,1077);
\draw[fa] (nv.west |- 0,1185) -- (299,1185) -- (mm.south); \FA{462}{1185}{180}
\draw[fa] (sob.west |- 0,1185) -- (nv.east |- 0,1185);
\end{pgfonlayer}
\end{tikzpicture}
\end{document}
